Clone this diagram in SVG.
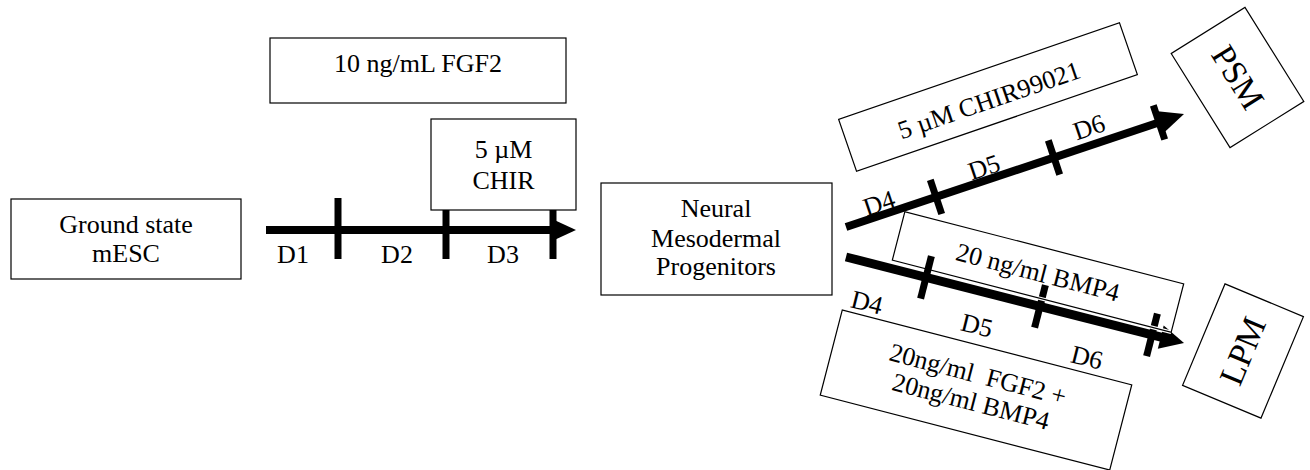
<svg xmlns="http://www.w3.org/2000/svg" width="1310" height="470" viewBox="0 0 1310 470">
<style>
.box{fill:#fff;stroke:#000;stroke-width:1.2}
.obox{fill:none;stroke:#000;stroke-width:1.2}
.t{font-family:"Liberation Serif","Times New Roman",serif;font-size:26px;fill:#000;text-anchor:middle}
.big{font-size:34px}
.shaft{stroke:#000;stroke-width:8;fill:none}
.tick{stroke:#000;stroke-width:7}
.head{fill:#000}
</style>
<rect width="1310" height="470" fill="#fff"/>

<g id="connectors">
  <line class="shaft" x1="266" y1="230" x2="556" y2="230"/>
  <polygon class="head" points="550,218 576,230 550,242"/>
  <line class="tick" x1="338" y1="198" x2="338" y2="259"/>
  <line class="tick" x1="446" y1="198" x2="446" y2="259"/>
  <line class="tick" x1="553" y1="198" x2="553" y2="259"/>
  <line class="shaft" x1="846" y1="227" x2="1164" y2="120.7"/>
  <polygon class="head" points="1164.7,132.0 1184,114 1157.7,111.2"/>
  <line class="tick" x1="930.3" y1="179.8" x2="941.7" y2="214.0"/>
  <line class="tick" x1="1048.3" y1="140.4" x2="1059.7" y2="174.6"/>
  <line class="tick" x1="1153.3" y1="105.3" x2="1164.7" y2="139.5"/>
  <line class="shaft" x1="846" y1="257" x2="1163" y2="337.7" style="stroke-width:9"/>
  <polygon class="head" points="1157.8,348.7 1184,343 1163.7,325.5"/>
  <line class="tick" x1="931.4" y1="256.1" x2="920.6" y2="298.7"/>
  <line class="tick" x1="1045.4" y1="285.1" x2="1034.6" y2="327.7"/>
  <line class="tick" x1="1157.4" y1="313.6" x2="1146.6" y2="356.2"/>
</g>

<g id="ground-state">
  <rect class="box" x="11" y="199" width="230" height="80"/>
  <text class="t" x="126" y="233">Ground state</text>
  <text class="t" x="126" y="262">mESC</text>
</g>

<g id="fgf2-10">
  <rect class="box" x="270" y="38" width="296" height="65"/>
  <text class="t" x="418" y="72">10 ng/mL FGF2</text>
</g>

<g id="chir-5">
  <rect class="box" x="431" y="119" width="145" height="91"/>
  <text class="t" x="503.5" y="158">5 µM</text>
  <text class="t" x="503.5" y="189">CHIR</text>
</g>

<g id="day-labels-1">
  <text class="t" x="293" y="263">D1</text>
  <text class="t" x="397" y="263">D2</text>
  <text class="t" x="503" y="263">D3</text>
</g>

<g id="nmp">
  <rect class="box" x="601" y="183" width="231" height="112"/>
  <text class="t" x="716" y="217">Neural</text>
  <text class="t" x="716" y="247">Mesodermal</text>
  <text class="t" x="716" y="275">Progenitors</text>
</g>

<g id="chir99021" transform="translate(988,97) rotate(-19)">
  <rect class="box" x="-148.5" y="-27.5" width="297" height="55"/>
  <text class="t" x="0" y="12">5 µM CHIR99021</text>
</g>

<g id="psm" transform="translate(1237.5,77.5) rotate(58)">
  <rect class="box" x="-55.5" y="-43.5" width="111" height="87"/>
  <text class="t big" x="0" y="11">PSM</text>
</g>

<g id="bmp4-20" transform="translate(1038,272) rotate(14.5)">
  <line x1="-60" y1="25" x2="144" y2="25" stroke="#fff" stroke-width="3.4"/>
  <rect class="obox" x="-144" y="-25" width="288" height="50"/>
  <text class="t" x="0" y="9">20 ng/ml BMP4</text>
</g>

<g id="fgf2-bmp4" transform="translate(976,390) rotate(14.5)">
  <rect class="box" x="-149.5" y="-44" width="299" height="88"/>
  <text class="t" x="-2" y="-7" style="white-space:pre">20ng/ml  FGF2 +</text>
  <text class="t" x="-2" y="21">20ng/ml BMP4</text>
</g>

<g id="lpm" transform="translate(1243,351) rotate(-67.3)">
  <rect class="box" x="-55" y="-42.5" width="110" height="85"/>
  <text class="t big" x="0" y="11">LPM</text>
</g>

<g id="day-labels-psm">
  <text class="t" transform="translate(879,203) rotate(-18.5)" y="9">D4</text>
  <text class="t" transform="translate(984,167) rotate(-18.5)" y="9">D5</text>
  <text class="t" transform="translate(1089,127) rotate(-18.5)" y="9">D6</text>
</g>

<g id="day-labels-lpm">
  <text class="t" transform="translate(867,302) rotate(14)" y="9">D4</text>
  <text class="t" transform="translate(977,325) rotate(14)" y="9">D5</text>
  <text class="t" transform="translate(1087,357) rotate(14)" y="9">D6</text>
</g>
</svg>
